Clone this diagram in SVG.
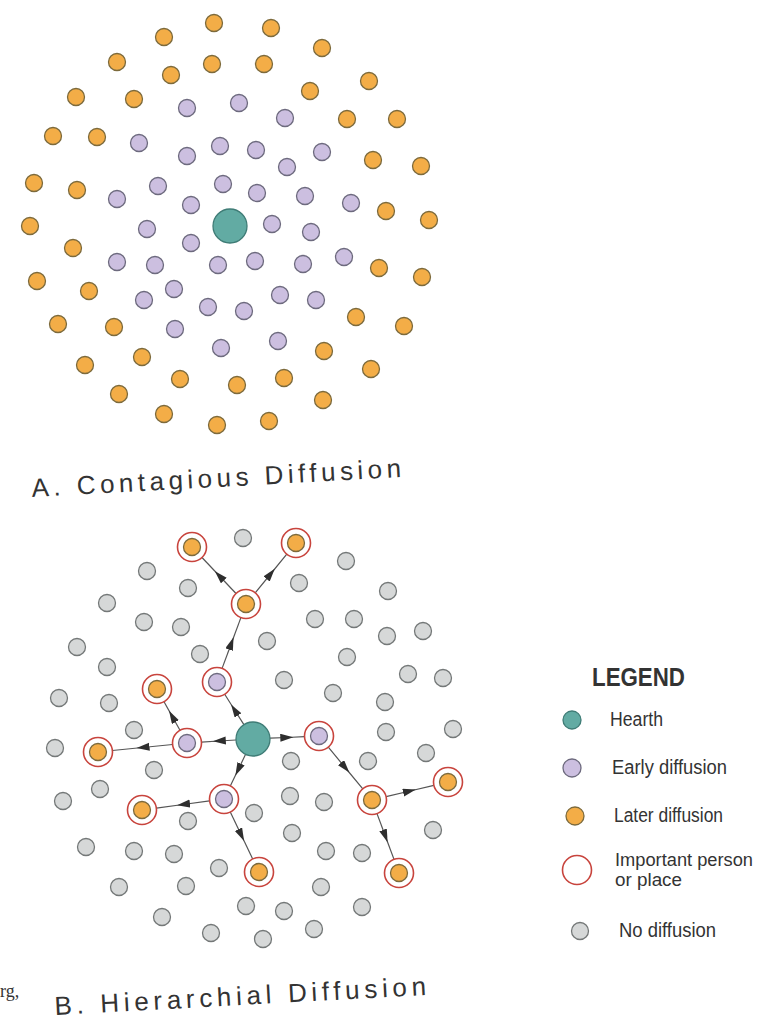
<svg xmlns="http://www.w3.org/2000/svg" width="762" height="1019" viewBox="0 0 762 1019">
<style>
.o{fill:#f3ad47;stroke:#7c6a3c;stroke-width:1.3}
.p{fill:#ccbfe0;stroke:#6d6a7e;stroke-width:1.3}
.g{fill:#d6d8d8;stroke:#747878;stroke-width:1.3}
.h{fill:#62aba3;stroke:#3f7c76;stroke-width:1.3}
.ring{fill:#fff;stroke:#c8443d;stroke-width:1.6}
.t{font-family:"Liberation Sans",Arial,sans-serif;fill:#333}
.lg{font-family:"Liberation Sans",Arial,sans-serif;fill:#333;font-size:20px}
.lg2{font-family:"Liberation Sans",Arial,sans-serif;fill:#333;font-size:17.5px}
.c{fill:none;stroke:#555;stroke-width:1.2;marker-mid:url(#ah)}
</style>
<defs>
<marker id="ah" markerUnits="userSpaceOnUse" markerWidth="14" markerHeight="9" refX="7" refY="4" orient="auto">
<path d="M0,0 L13,4 L0,8 z" fill="#2e2e2e"/>
</marker>
</defs>
<rect width="762" height="1019" fill="#fff"/>

<g id="contagious">
<g id="a-later">
<circle class="o" cx="214" cy="23" r="8.5"/><circle class="o" cx="271" cy="28" r="8.5"/><circle class="o" cx="164" cy="37" r="8.5"/><circle class="o" cx="322" cy="48" r="8.5"/>
<circle class="o" cx="117" cy="62" r="8.5"/><circle class="o" cx="212" cy="64" r="8.5"/><circle class="o" cx="264" cy="64" r="8.5"/><circle class="o" cx="171" cy="75" r="8.5"/>
<circle class="o" cx="76" cy="97" r="8.5"/><circle class="o" cx="134" cy="99" r="8.5"/><circle class="o" cx="310" cy="91" r="8.5"/><circle class="o" cx="369" cy="81" r="8.5"/>
<circle class="o" cx="53" cy="136" r="8.5"/><circle class="o" cx="97" cy="137" r="8.5"/><circle class="o" cx="347" cy="119" r="8.5"/><circle class="o" cx="397" cy="119" r="8.5"/>
<circle class="o" cx="34" cy="183" r="8.5"/><circle class="o" cx="77" cy="190" r="8.5"/><circle class="o" cx="373" cy="160" r="8.5"/><circle class="o" cx="421" cy="166" r="8.5"/>
<circle class="o" cx="30" cy="226" r="8.5"/><circle class="o" cx="73" cy="248" r="8.5"/><circle class="o" cx="386" cy="211" r="8.5"/><circle class="o" cx="429" cy="220" r="8.5"/>
<circle class="o" cx="37" cy="281" r="8.5"/><circle class="o" cx="89" cy="291" r="8.5"/><circle class="o" cx="379" cy="268" r="8.5"/><circle class="o" cx="422" cy="277" r="8.5"/>
<circle class="o" cx="58" cy="324" r="8.5"/><circle class="o" cx="114" cy="327" r="8.5"/><circle class="o" cx="356" cy="317" r="8.5"/><circle class="o" cx="404" cy="326" r="8.5"/>
<circle class="o" cx="85" cy="365" r="8.5"/><circle class="o" cx="142" cy="357" r="8.5"/><circle class="o" cx="324" cy="351" r="8.5"/><circle class="o" cx="371" cy="369" r="8.5"/>
<circle class="o" cx="119" cy="394" r="8.5"/><circle class="o" cx="180" cy="379" r="8.5"/><circle class="o" cx="237" cy="385" r="8.5"/><circle class="o" cx="284" cy="378" r="8.5"/>
<circle class="o" cx="164" cy="414" r="8.5"/><circle class="o" cx="217" cy="425" r="8.5"/><circle class="o" cx="269" cy="421" r="8.5"/><circle class="o" cx="323" cy="400" r="8.5"/>
</g>
<g id="a-early">
<circle class="p" cx="187" cy="108" r="8.5"/><circle class="p" cx="239" cy="103" r="8.5"/><circle class="p" cx="285" cy="118" r="8.5"/>
<circle class="p" cx="139" cy="143" r="8.5"/><circle class="p" cx="187" cy="156" r="8.5"/><circle class="p" cx="220" cy="146" r="8.5"/><circle class="p" cx="256" cy="150" r="8.5"/><circle class="p" cx="322" cy="152" r="8.5"/>
<circle class="p" cx="287" cy="167" r="8.5"/><circle class="p" cx="158" cy="186" r="8.5"/><circle class="p" cx="223" cy="184" r="8.5"/>
<circle class="p" cx="117" cy="199" r="8.5"/><circle class="p" cx="191" cy="205" r="8.5"/><circle class="p" cx="257" cy="193" r="8.5"/><circle class="p" cx="305" cy="196" r="8.5"/><circle class="p" cx="351" cy="203" r="8.5"/>
<circle class="p" cx="147" cy="229" r="8.5"/><circle class="p" cx="272" cy="224" r="8.5"/><circle class="p" cx="311" cy="232" r="8.5"/>
<circle class="p" cx="191" cy="243" r="8.5"/><circle class="p" cx="117" cy="262" r="8.5"/><circle class="p" cx="155" cy="265" r="8.5"/><circle class="p" cx="218" cy="265" r="8.5"/><circle class="p" cx="255" cy="261" r="8.5"/><circle class="p" cx="303" cy="264" r="8.5"/><circle class="p" cx="344" cy="257" r="8.5"/>
<circle class="p" cx="174" cy="289" r="8.5"/><circle class="p" cx="144" cy="300" r="8.5"/><circle class="p" cx="208" cy="307" r="8.5"/><circle class="p" cx="244" cy="311" r="8.5"/><circle class="p" cx="280" cy="295" r="8.5"/><circle class="p" cx="316" cy="300" r="8.5"/>
<circle class="p" cx="175" cy="329" r="8.5"/><circle class="p" cx="221" cy="348" r="8.5"/><circle class="p" cx="278" cy="341" r="8.5"/>
</g>
<g id="a-hearth"><circle class="h" cx="230" cy="226" r="17"/></g>
</g>
<text class="t" font-size="26" x="32" y="497" textLength="370" lengthAdjust="spacing" transform="rotate(-3.1 32 497)">A. Contagious Diffusion</text>

<g id="connectors">
<polyline class="c" points="243.9,724.6 234.3,709.5 224.7,694.3"/>
<polyline class="c" points="222.1,668.4 231.5,643 240.9,617.6"/>
<polyline class="c" points="236.0,593.5 219,575.5 202.0,557.5"/>
<polyline class="c" points="255.2,592.8 271,573.5 286.8,554.2"/>
<polyline class="c" points="236.0,740.0 218.8,741 201.5,742.1"/>
<polyline class="c" points="180.0,730.3 172,716 164.0,701.7"/>
<polyline class="c" points="172.6,744.5 142.5,747.5 112.4,750.5"/>
<polyline class="c" points="245.6,754.3 238,770.1 230.3,785.9"/>
<polyline class="c" points="209.6,800.9 183,804.5 156.4,808.1"/>
<polyline class="c" points="230.3,812.1 241.5,835.5 252.7,858.9"/>
<polyline class="c" points="270,738.2 287.3,737.5 304.5,736.7"/>
<polyline class="c" points="328.3,747.2 345.5,768 362.8,788.8"/>
<polyline class="c" points="386.1,796.7 410,791 433.9,785.3"/>
<polyline class="c" points="377.0,813.6 385.5,836.5 394.0,859.4"/>
</g>

<g id="no-diffusion">
<circle class="g" cx="243" cy="538" r="8.5"/><circle class="g" cx="346" cy="561" r="8.5"/><circle class="g" cx="147" cy="571" r="8.5"/><circle class="g" cx="188" cy="588" r="8.5"/>
<circle class="g" cx="299" cy="583" r="8.5"/><circle class="g" cx="388" cy="591" r="8.5"/><circle class="g" cx="107" cy="603" r="8.5"/><circle class="g" cx="144" cy="622" r="8.5"/>
<circle class="g" cx="181" cy="627" r="8.5"/><circle class="g" cx="315" cy="619" r="8.5"/><circle class="g" cx="354" cy="619" r="8.5"/><circle class="g" cx="387" cy="636" r="8.5"/>
<circle class="g" cx="423" cy="631" r="8.5"/><circle class="g" cx="77" cy="647" r="8.5"/><circle class="g" cx="200" cy="654" r="8.5"/><circle class="g" cx="267" cy="641" r="8.5"/>
<circle class="g" cx="347" cy="657" r="8.5"/><circle class="g" cx="408" cy="674" r="8.5"/><circle class="g" cx="443" cy="678" r="8.5"/><circle class="g" cx="107" cy="667" r="8.5"/>
<circle class="g" cx="284" cy="680" r="8.5"/><circle class="g" cx="333" cy="693" r="8.5"/><circle class="g" cx="385" cy="702" r="8.5"/><circle class="g" cx="59" cy="698" r="8.5"/>
<circle class="g" cx="109" cy="703" r="8.5"/><circle class="g" cx="134" cy="730" r="8.5"/><circle class="g" cx="386" cy="732" r="8.5"/><circle class="g" cx="453" cy="729" r="8.5"/>
<circle class="g" cx="55" cy="748" r="8.5"/><circle class="g" cx="154" cy="770" r="8.5"/><circle class="g" cx="426" cy="753" r="8.5"/><circle class="g" cx="291" cy="761" r="8.5"/>
<circle class="g" cx="368" cy="761" r="8.5"/><circle class="g" cx="63" cy="801" r="8.5"/><circle class="g" cx="100" cy="789" r="8.5"/><circle class="g" cx="188" cy="821" r="8.5"/>
<circle class="g" cx="290" cy="796" r="8.5"/><circle class="g" cx="324" cy="802" r="8.5"/><circle class="g" cx="254" cy="813" r="8.5"/><circle class="g" cx="433" cy="830" r="8.5"/>
<circle class="g" cx="86" cy="847" r="8.5"/><circle class="g" cx="134" cy="851" r="8.5"/><circle class="g" cx="174" cy="854" r="8.5"/><circle class="g" cx="292" cy="833" r="8.5"/>
<circle class="g" cx="326" cy="851" r="8.5"/><circle class="g" cx="362" cy="853" r="8.5"/><circle class="g" cx="219" cy="868" r="8.5"/><circle class="g" cx="321" cy="887" r="8.5"/>
<circle class="g" cx="119" cy="887" r="8.5"/><circle class="g" cx="186" cy="886" r="8.5"/><circle class="g" cx="246" cy="906" r="8.5"/><circle class="g" cx="284" cy="911" r="8.5"/>
<circle class="g" cx="362" cy="907" r="8.5"/><circle class="g" cx="162" cy="917" r="8.5"/><circle class="g" cx="211" cy="933" r="8.5"/><circle class="g" cx="263" cy="939" r="8.5"/>
<circle class="g" cx="314" cy="929" r="8.5"/>
</g>

<g id="b-hearth"><circle class="h" cx="253" cy="739" r="17"/></g>
<g id="b-early-n"><circle class="ring" cx="217" cy="682" r="14.5"/><circle class="p" cx="217" cy="682" r="8.5"/></g>
<g id="b-early-w"><circle class="ring" cx="187" cy="743" r="14.5"/><circle class="p" cx="187" cy="743" r="8.5"/></g>
<g id="b-early-s"><circle class="ring" cx="224" cy="799" r="14.5"/><circle class="p" cx="224" cy="799" r="8.5"/></g>
<g id="b-early-e"><circle class="ring" cx="319" cy="736" r="14.5"/><circle class="p" cx="319" cy="736" r="8.5"/></g>
<g id="b-later-1"><circle class="ring" cx="246" cy="604" r="14.5"/><circle class="o" cx="246" cy="604" r="8.5"/></g>
<g id="b-later-2"><circle class="ring" cx="192" cy="547" r="14.5"/><circle class="o" cx="192" cy="547" r="8.5"/></g>
<g id="b-later-3"><circle class="ring" cx="296" cy="543" r="14.5"/><circle class="o" cx="296" cy="543" r="8.5"/></g>
<g id="b-later-4"><circle class="ring" cx="157" cy="689" r="14.5"/><circle class="o" cx="157" cy="689" r="8.5"/></g>
<g id="b-later-5"><circle class="ring" cx="98" cy="752" r="14.5"/><circle class="o" cx="98" cy="752" r="8.5"/></g>
<g id="b-later-6"><circle class="ring" cx="142" cy="810" r="14.5"/><circle class="o" cx="142" cy="810" r="8.5"/></g>
<g id="b-later-7"><circle class="ring" cx="259" cy="872" r="14.5"/><circle class="o" cx="259" cy="872" r="8.5"/></g>
<g id="b-later-8"><circle class="ring" cx="372" cy="800" r="14.5"/><circle class="o" cx="372" cy="800" r="8.5"/></g>
<g id="b-later-9"><circle class="ring" cx="448" cy="782" r="14.5"/><circle class="o" cx="448" cy="782" r="8.5"/></g>
<g id="b-later-10"><circle class="ring" cx="399" cy="873" r="14.5"/><circle class="o" cx="399" cy="873" r="8.5"/></g>

<text class="t" font-size="26" x="55" y="1015" textLength="372" lengthAdjust="spacing" transform="rotate(-3.1 55 1015)">B. Hierarchial Diffusion</text>
<text x="0" y="997" font-family="Liberation Serif,'Times New Roman',serif" font-size="18" fill="#333">rg,</text>

<g id="legend">
<text class="t" font-size="25" font-weight="bold" x="592" y="686" textLength="93" lengthAdjust="spacingAndGlyphs">LEGEND</text>
<g id="lg-hearth"><circle class="h" cx="572" cy="720" r="9"/><text class="lg" x="610" y="726" textLength="53" lengthAdjust="spacingAndGlyphs">Hearth</text></g>
<g id="lg-early"><circle class="p" cx="572" cy="768" r="9"/><text class="lg" x="612" y="774" textLength="115" lengthAdjust="spacingAndGlyphs">Early diffusion</text></g>
<g id="lg-later"><circle class="o" cx="575" cy="816" r="9"/><text class="lg" x="614" y="822" textLength="109" lengthAdjust="spacingAndGlyphs">Later diffusion</text></g>
<g id="lg-important"><circle class="ring" cx="577" cy="870" r="14.5"/><text class="lg2" x="615" y="866" textLength="138" lengthAdjust="spacingAndGlyphs">Important person</text><text class="lg2" x="615" y="886" textLength="67" lengthAdjust="spacingAndGlyphs">or place</text></g>
<g id="lg-none"><circle class="g" cx="580" cy="931" r="8.5"/><text class="lg" x="619" y="937" textLength="97" lengthAdjust="spacingAndGlyphs">No diffusion</text></g>
</g>
</svg>
